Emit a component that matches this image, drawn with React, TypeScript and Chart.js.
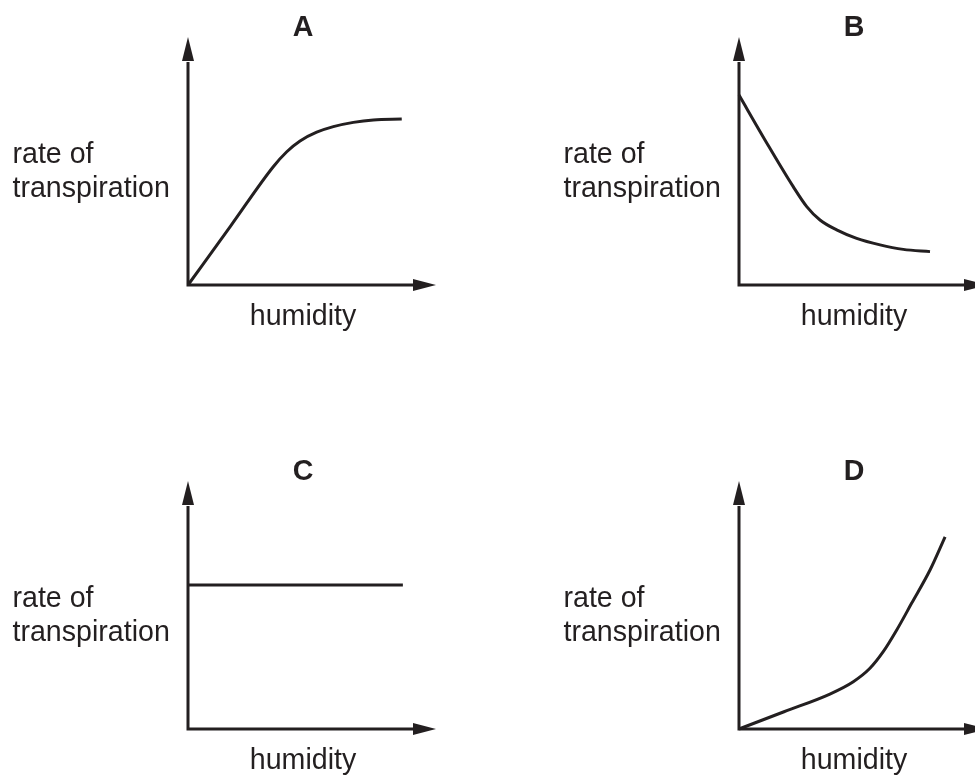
import React, { useEffect, useRef } from "react";
import { Chart, registerables } from "chart.js";

Chart.register(...registerables);

// ---- data ----
const PANEL_LETTERS = ["A", "B", "C", "D"];
const Y_LABEL_LINES = ["rate of", "transpiration"];
const X_LABEL = "humidity";

const A_X = [0, 1.9, 3.79, 4.39, 4.98, 5.72, 6.46, 7.35, 8.24, 9.5];
const A_Y = [0, 2.64, 5.28, 5.95, 6.43, 6.82, 7.07, 7.26, 7.37, 7.41];

const B_X = [0, 1.2, 2.41, 3.01, 3.6, 4.34, 5.23, 6.27, 7.3, 8.49];
const B_Y = [8.48, 6.4, 4.39, 3.5, 2.9, 2.46, 2.08, 1.79, 1.59, 1.49];

const C_X = [0, 9.55];
const C_Y = [6.43, 6.43];

const D_X = [0, 2.0, 4.04, 5.08, 5.82, 6.41, 7.01, 7.67, 8.49, 9.16];
const D_Y = [0, 0.77, 1.56, 2.11, 2.71, 3.45, 4.42, 5.61, 7.1, 8.58];

const SERIES_X = [A_X, B_X, C_X, D_X];
const SERIES_Y = [A_Y, B_Y, C_Y, D_Y];

const AXIS_MIN = 0;
const AXIS_MAX = 10;

// ---- styling ----
const INK = "#231f20";
const FONT = '"Liberation Sans", Arial, Helvetica, sans-serif';
const FONT_SIZE = 28.6;

const PANELS = [
  { left: 0, top: 0, width: 551, height: 444 },
  { left: 551, top: 0, width: 424, height: 444 },
  { left: 0, top: 444, width: 551, height: 332 },
  { left: 551, top: 444, width: 424, height: 332 },
];

const AREA = { left: 188, top: 61, right: 413, bottom: 285 };

const diagramPlugin = {
  id: "diagram",
  afterDraw(chart: any, _args: any, opts: any) {
    const { ctx, scales } = chart;
    const xs = scales.x;
    const ys = scales.y;
    const ox = xs.getPixelForValue(AXIS_MIN);
    const oy = ys.getPixelForValue(AXIS_MIN);
    const xEnd = xs.getPixelForValue(AXIS_MAX);
    const yEnd = ys.getPixelForValue(AXIS_MAX);
    ctx.save();
    ctx.strokeStyle = INK;
    ctx.fillStyle = INK;
    ctx.lineWidth = 3;
    ctx.lineCap = "butt";
    ctx.beginPath();
    ctx.moveTo(ox, yEnd + 1);
    ctx.lineTo(ox, oy + 1.5);
    ctx.moveTo(ox - 1.5, oy);
    ctx.lineTo(xEnd + 1, oy);
    ctx.stroke();
    // arrow heads
    ctx.beginPath();
    ctx.moveTo(ox, yEnd - 24);
    ctx.lineTo(ox - 6, yEnd);
    ctx.lineTo(ox + 6, yEnd);
    ctx.closePath();
    ctx.fill();
    ctx.beginPath();
    ctx.moveTo(xEnd + 23, oy);
    ctx.lineTo(xEnd, oy - 6);
    ctx.lineTo(xEnd, oy + 6);
    ctx.closePath();
    ctx.fill();

    // texts
    ctx.textBaseline = "alphabetic";
    ctx.font = `bold ${FONT_SIZE}px ${FONT}`;
    ctx.textAlign = "center";
    ctx.fillText(opts.letter, ox + 115, yEnd - 25);
    ctx.font = `${FONT_SIZE}px ${FONT}`;
    ctx.textAlign = "left";
    ctx.fillText(Y_LABEL_LINES[0], 12.5, 163);
    ctx.fillText(Y_LABEL_LINES[1], 12.5, 197);
    ctx.textAlign = "center";
    ctx.fillText(X_LABEL, ox + 115, oy + 40);
    ctx.restore();
  },
};

function Panel({ index }: { index: number }) {
  const ref = useRef<HTMLCanvasElement | null>(null);
  const p = PANELS[index];
  useEffect(() => {
    if (!ref.current) return;
    const xs = SERIES_X[index];
    const ysv = SERIES_Y[index];
    const points = xs.map((x, i) => ({ x, y: ysv[i] }));
    const chart = new Chart(ref.current, {
      type: "line",
      data: {
        datasets: [
          {
            data: points,
            borderColor: INK,
            borderWidth: 3,
            pointRadius: 0,
            cubicInterpolationMode: "monotone",
            fill: false,
            clip: false as any,
          } as any,
        ],
      },
      options: {
        animation: false,
        responsive: false,
        events: [],
        layout: {
          autoPadding: false,
          padding: {
            left: AREA.left,
            top: AREA.top,
            right: p.width - AREA.right,
            bottom: p.height - AREA.bottom,
          },
        },
        scales: {
          x: { type: "linear", min: AXIS_MIN, max: AXIS_MAX, display: false },
          y: { type: "linear", min: AXIS_MIN, max: AXIS_MAX, display: false },
        },
        plugins: {
          legend: { display: false },
          tooltip: { enabled: false },
          title: { display: false },
          diagram: { letter: PANEL_LETTERS[index] },
        } as any,
      },
      plugins: [diagramPlugin],
    });
    return () => chart.destroy();
  }, [index]);
  return (
    <canvas
      ref={ref}
      width={p.width}
      height={p.height}
      style={{
        position: "absolute",
        left: p.left,
        top: p.top,
        width: p.width,
        height: p.height,
      }}
    />
  );
}

export default function App() {
  return (
    <div
      style={{
        position: "absolute",
        left: 0,
        top: 0,
        width: 975,
        height: 776,
        background: "#ffffff",
        overflow: "hidden",
      }}
    >
      {PANELS.map((_, i) => (
        <Panel key={i} index={i} />
      ))}
    </div>
  );
}
